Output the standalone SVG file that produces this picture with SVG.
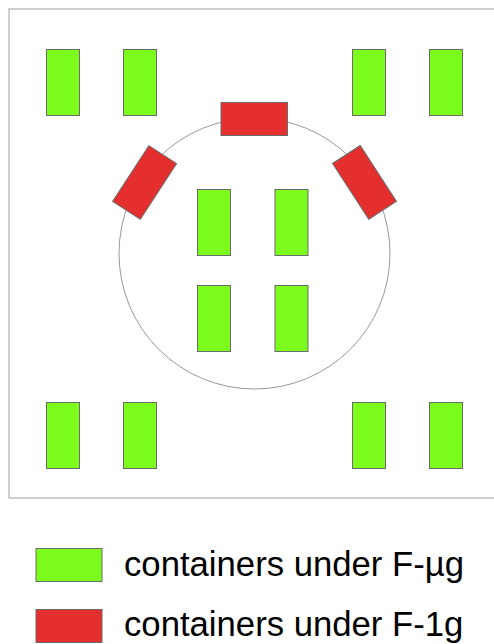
<svg xmlns="http://www.w3.org/2000/svg" width="494" height="644" viewBox="0 0 494 644">
<style>
.g{fill:#7cfc1c;stroke:#6a6a6a;stroke-width:1}
.r{fill:#e52e2e;stroke:#6a6a6a;stroke-width:1}
.t{font-family:"Liberation Sans",Arial,sans-serif;font-size:34.7px;fill:#000}
</style>
<rect x="0" y="0" width="494" height="644" fill="#fff"/>
<rect id="frame" x="9" y="9" width="500" height="489" fill="none" stroke="#b4b4b4" stroke-width="1.3"/>
<circle id="ring" cx="254.5" cy="253.5" r="135.5" fill="none" stroke="#999" stroke-width="1"/>
<g id="outer-green">
<rect class="g" x="46.5" y="49.5" width="33" height="66"/>
<rect class="g" x="123.5" y="49.5" width="33" height="66"/>
<rect class="g" x="352.5" y="49.5" width="33" height="66"/>
<rect class="g" x="429.5" y="49.5" width="33" height="66"/>
<rect class="g" x="46.5" y="402.5" width="33" height="66"/>
<rect class="g" x="123.5" y="402.5" width="33" height="66"/>
<rect class="g" x="352.5" y="402.5" width="33" height="66"/>
<rect class="g" x="429.5" y="402.5" width="33" height="66"/>
</g>
<g id="inner-green">
<rect class="g" x="197.5" y="189.5" width="33" height="66"/>
<rect class="g" x="275" y="189.5" width="33" height="66"/>
<rect class="g" x="197.5" y="285.5" width="33" height="66"/>
<rect class="g" x="275" y="285.5" width="33" height="66"/>
</g>
<g id="red">
<rect class="r" x="221" y="102.5" width="66.5" height="33"/>
<rect class="r" x="-33.25" y="-16.5" width="66.5" height="33" transform="translate(144.6,182.5) rotate(-57)"/>
<rect class="r" x="-33.25" y="-16.5" width="66.5" height="33" transform="translate(364.5,182.4) rotate(57)"/>
</g>
<g id="legend">
<rect class="g" x="36" y="548.5" width="66" height="33"/>
<text class="t" x="124" y="576">containers under F-µg</text>
<rect class="r" x="36" y="609.5" width="66" height="33"/>
<text class="t" x="124" y="636">containers under F-1g</text>
</g>
</svg>
